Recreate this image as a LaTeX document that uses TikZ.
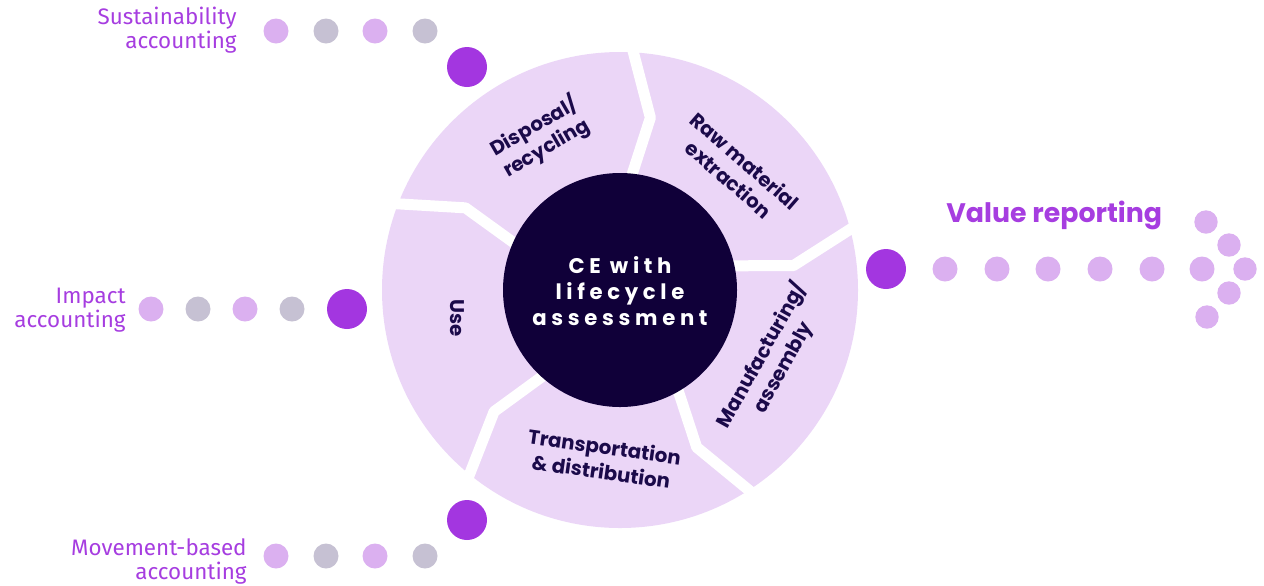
\documentclass[tikz,border=0pt]{standalone}
\usepackage{fontspec}
\setmainfont{Fira Sans}
\newfontfamily\popf{Poppins}
\usetikzlibrary{calc}
\definecolor{ringc}{HTML}{EBD6F7}
\definecolor{darkc}{HTML}{100039}
\definecolor{bigc}{HTML}{A336E0}
\definecolor{lightc}{HTML}{DBB0F0}
\definecolor{grayc}{HTML}{C6C1D3}
\definecolor{labc}{HTML}{A63DE0}
\definecolor{segc}{HTML}{1B0A4A}
\tikzset{
  bigdot/.style={circle,fill=bigc,minimum size=20pt,inner sep=0pt},
  ldot/.style={circle,fill=lightc,minimum size=12.5pt,inner sep=0pt},
  gdot/.style={circle,fill=grayc,minimum size=12.5pt,inner sep=0pt},
  adot/.style={circle,fill=lightc,minimum size=11.7pt,inner sep=0pt},
  lab/.style={text=labc,align=right,font=\fontsize{11.2}{12}\selectfont,inner sep=0pt},
  seg/.style={text=segc,align=center,font=\popf\fontsize{9.9}{12.3}\selectfont\bfseries,inner sep=0pt},
  gap/.style={draw=white,line width=5.5pt,line join=round},
}
\begin{document}
\begin{tikzpicture}[x=0.5pt,y=-0.5pt]
\useasboundingbox (0,0) rectangle (1264,585);
\coordinate (C) at (620,290);
\fill[ringc] (C) circle (238);
\foreach \t in {88,16,-56,-128,-200}{
  \draw[gap] ($(C)+({-\t}:255)$) -- ($(C)+({-(\t-8)}:175)$) -- ($(C)+({-(\t-2)}:100)$);
}
\node[circle,fill=darkc,minimum size=117pt,inner sep=0pt] (core) at (C) {};
\node[text=white,align=center,inner sep=0pt,font=\popf\fontsize{10.6}{13}\selectfont\bfseries\addfontfeatures{LetterSpace=22}] (cet) at (620,291) {CE with\\lifecycle\\assessment};

\node[seg,rotate=30] (disp) at (540,137) {Disposal/\\recycling};
\node[seg,rotate=-41] (raw) at (737,170) {Raw material\\extraction};
\node[seg,rotate=61] (manu) at (772,361) {Manufacturing/\\assembly};
\node[seg,rotate=-8] (trans) at (603,459) {Transportation\\\& distribution};
\node[seg,rotate=-90] (use) at (457,318) {Use};

% top row
\node[lab,anchor=east] (l1) at (237,30) {Sustainability\\accounting};
\node[ldot] (a1) at (276,31) {};
\node[gdot] (a2) at (326,31) {};
\node[ldot] (a3) at (375,31) {};
\node[gdot] (a4) at (425,31) {};
\node[bigdot] (A) at (467,67) {};
% middle row
\node[lab,anchor=east] (l2) at (126,310) {Impact\\accounting};
\node[ldot] (b1) at (151,309) {};
\node[gdot] (b2) at (198,309) {};
\node[ldot] (b3) at (245,309) {};
\node[gdot] (b4) at (292,309) {};
\node[bigdot] (B) at (347,309) {};
% bottom row
\node[lab,anchor=east] (l3) at (247,561) {Movement-based\\accounting};
\node[ldot] (c1) at (276,556) {};
\node[gdot] (c2) at (326,556) {};
\node[ldot] (c3) at (375,556) {};
\node[gdot] (c4) at (425,556) {};
\node[bigdot] (Cb) at (467,520) {};
% value reporting
\node[text=labc,anchor=base west,inner sep=0pt,font=\popf\fontsize{13.4}{15}\selectfont\bfseries] (vr) at (946,222) {Value reporting};
\node[bigdot] (V) at (886,269) {};
\foreach \x [count=\i] in {945,997,1048,1100,1152,1202}{
  \node[ldot] (v\i) at (\x,269) {};
}
\node[adot] (h1) at (1245,269) {};
\node[adot] (h2) at (1229,245) {};
\node[adot] (h3) at (1229,293) {};
\node[adot] (h4) at (1206,222) {};
\node[adot] (h5) at (1207,317) {};
\end{tikzpicture}
\end{document}
